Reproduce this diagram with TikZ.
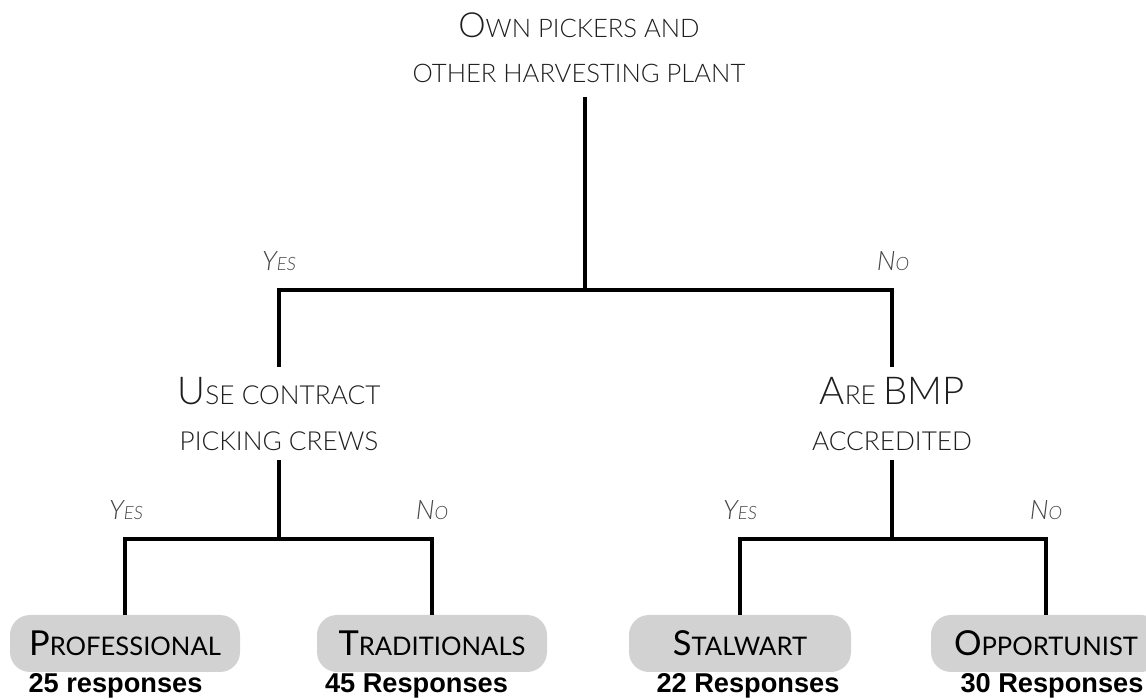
\documentclass[tikz,border=0pt]{standalone}
\usepackage{fontspec}
\setmainfont{Lato Light}
\newfontfamily\leaffont{Lato}
\setsansfont{Liberation Sans}
\definecolor{boxgray}{HTML}{D2D2D2}
\definecolor{ink}{HTML}{1E1E1E}
\definecolor{yngray}{HTML}{444444}
% small-caps imitation: big initial + smaller capitals
\newcommand\tbig[1]{{\fontsize{17.3}{20}\selectfont #1}}
\newcommand\tsml[1]{{\fontsize{12.8}{15}\selectfont #1}}
\newcommand\mbig[1]{{\fontsize{19.2}{22}\selectfont #1}}
\newcommand\msml[1]{{\fontsize{13.1}{15}\selectfont #1}}
\newcommand\lbig[1]{{\fontsize{17.2}{20}\selectfont #1}}
\newcommand\lsml[1]{{\fontsize{12.8}{15}\selectfont #1}}
\newcommand\ybig[1]{{\fontsize{13.4}{16}\selectfont #1}}
\newcommand\ysml[1]{{\fontsize{9.2}{11}\selectfont #1}}
\begin{document}
\begin{tikzpicture}[x=0.5pt,y=-0.5pt,
  tree/.style={line width=2pt, draw=black, line join=miter},
  lbl/.style={inner sep=0pt, anchor=base, text=ink},
  yn/.style={inner sep=0pt, anchor=base, text=yngray, font=\itshape},
  leaf/.style={fill=boxgray, rounded corners=10pt, minimum width=115pt,
    minimum height=28.5pt, inner sep=0pt, text=black, font=\leaffont},
  resp/.style={inner sep=0pt, anchor=base,
    font=\sffamily\bfseries\fontsize{13.6}{15}\selectfont}]
\useasboundingbox (0,0) rectangle (1146,699);

% top question
\node[lbl] (title1) at (579,38) {\tbig{O}\tsml{WN PICKERS AND}};
\node[lbl] (title2) at (579,83) {\tsml{OTHER HARVESTING PLANT}};
\coordinate (j0) at (585,97);
\coordinate (j1) at (585,290);
\coordinate (a0) at (279,367);
\coordinate (b0) at (892,367);
\draw[tree] (j0) -- (j1);
\draw[tree] (a0) |- (j1) -| (b0);
\node[yn] (yes0) at (279,271) {\ybig{Y}\ysml{ES}};
\node[yn] (no0) at (893,271) {\ybig{N}\ysml{O}};

% second level questions
\node[lbl] (qa1) at (279,405) {\mbig{U}\msml{SE CONTRACT}};
\node[lbl] (qa2) at (279,451) {\msml{PICKING CREWS}};
\node[lbl] (qb1) at (892,405) {\mbig{A}\msml{RE }\mbig{BMP}};
\node[lbl] (qb2) at (892,451) {\msml{ACCREDITED}};

% leaves
\node[leaf] (pro) at (125,643.5) {\lbig{P}\lsml{ROFESSIONAL}};
\node[leaf] (tra) at (432,643.5) {\lbig{T}\lsml{RADITIONALS}};
\node[leaf, minimum width=111pt] (sta) at (740,643.5) {\lbig{S}\lsml{TALWART}};
\node[leaf] (opp) at (1046,643.5) {\lbig{O}\lsml{PPORTUNIST}};

\coordinate (a1) at (279,460);
\coordinate (a2) at (279,539);
\coordinate (b1) at (892,460);
\coordinate (b2) at (892,539);
\draw[tree] (a1) -- (a2);
\draw[tree] (b1) -- (b2);
\draw[tree] (pro.north) |- (a2) -| (tra.north);
\draw[tree] (sta.north) |- (b2) -| (opp.north);

\node[yn] (yes1) at (126,520) {\ybig{Y}\ysml{ES}};
\node[yn] (no1) at (432,520) {\ybig{N}\ysml{O}};
\node[yn] (yes2) at (740,520) {\ybig{Y}\ysml{ES}};
\node[yn] (no2) at (1046,520) {\ybig{N}\ysml{O}};

% response counts
\node[resp] (r1) at (115.5,692) {25 responses};
\node[resp] (r2) at (416.5,692) {45 Responses};
\node[resp] (r3) at (748,692) {22 Responses};
\node[resp] (r4) at (1052,692) {30 Responses};
\end{tikzpicture}
\end{document}
